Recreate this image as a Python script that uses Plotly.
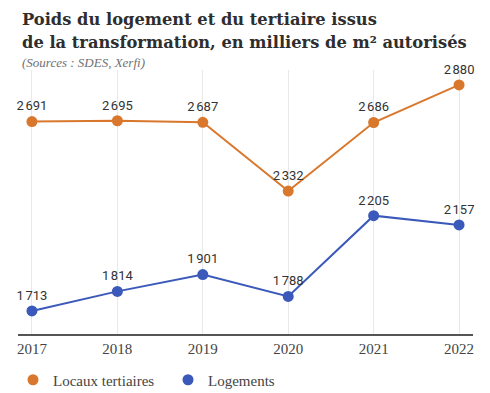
import plotly.graph_objects as go

years = [2017, 2018, 2019, 2020, 2021, 2022]
tertiaire = [2691, 2695, 2687, 2332, 2686, 2880]
logements = [1713, 1814, 1901, 1788, 2205, 2157]
series_names = ["Locaux tertiaires", "Logements"]
title_lines = ["Poids du logement et du tertiaire issus",
               "de la transformation, en milliers de m² autorisés"]
subtitle = "(Sources : SDES, Xerfi)"

def fmt(v):
    return f"{v:,}".replace(",", "\u202f")

ORANGE = "#d9782d"
BLUE = "#3b59ba"

fig = go.Figure()
for name, vals, col in [(series_names[0], tertiaire, ORANGE), (series_names[1], logements, BLUE)]:
    fig.add_trace(go.Scatter(
        x=years, y=vals, name=name, showlegend=False,
        mode="lines+markers+text",
        line=dict(color=col, width=2),
        marker=dict(color=col, size=11),
        text=[fmt(v) for v in vals], textposition="top center",
        textfont=dict(family="Roboto", size=13, color="#333"),
        cliponaxis=False, hoverinfo="skip",
    ))
for name, col in [(series_names[0], ORANGE), (series_names[1], BLUE)]:
    fig.add_trace(go.Scatter(
        x=[None], y=[None], name=name, mode="markers",
        marker=dict(color=col, size=11), showlegend=True,
    ))

W = 490 - 18 - 17
H = 393 - 70 - 59

def py(pix):
    return (334 - pix) / H

fig.update_layout(
    width=490, height=393,
    margin=dict(l=18, r=17, t=70, b=59, autoexpand=False),
    paper_bgcolor="white", plot_bgcolor="white",
    showlegend=True,
    legend=dict(orientation="h", xref="container", x=13 / 490, xanchor="left",
                yref="container", y=1 - 380 / 393, yanchor="middle",
                font=dict(family="Liberation Serif", size=15, color="#444"),
                itemwidth=30, traceorder="normal",
                entrywidth=110, entrywidthmode="pixels"),
    xaxis=dict(
        range=[2016.837, 2022.163], tickvals=years,
        ticktext=[str(y) for y in years],
        showgrid=True, gridcolor="#e8e8e8", gridwidth=1,
        showline=True, linecolor="#555", linewidth=2,
        ticks="", tickfont=dict(family="Liberation Serif", size=15, color="#444"),
        zeroline=False, fixedrange=True, automargin=False,
    ),
    yaxis=dict(range=[1594, 2957], visible=False, showgrid=False, zeroline=False,
               fixedrange=True),
    annotations=[
        dict(text=f"<b>{title_lines[0]}</b>",
             xref="paper", yref="paper", x=(20 - 18) / W, y=py(19),
             showarrow=False, align="left", xanchor="left", yanchor="middle",
             font=dict(family="DejaVu Serif", size=16.3, color="#2e2e2e")),
        dict(text=f"<b>{title_lines[1]}</b>",
             xref="paper", yref="paper", x=(20 - 18) / W, y=py(43),
             showarrow=False, align="left", xanchor="left", yanchor="middle",
             font=dict(family="DejaVu Serif", size=16.3, color="#2e2e2e")),
        dict(text=f"<i>{subtitle}</i>",
             xref="paper", yref="paper", x=(20 - 18) / W, y=py(63),
             showarrow=False, align="left", xanchor="left", yanchor="middle",
             font=dict(family="Liberation Serif", size=13, color="#707070")),
    ],
)

fig.write_html("out.html", post_script="document.body.style.margin='0';",
               config={"displayModeBar": False})
